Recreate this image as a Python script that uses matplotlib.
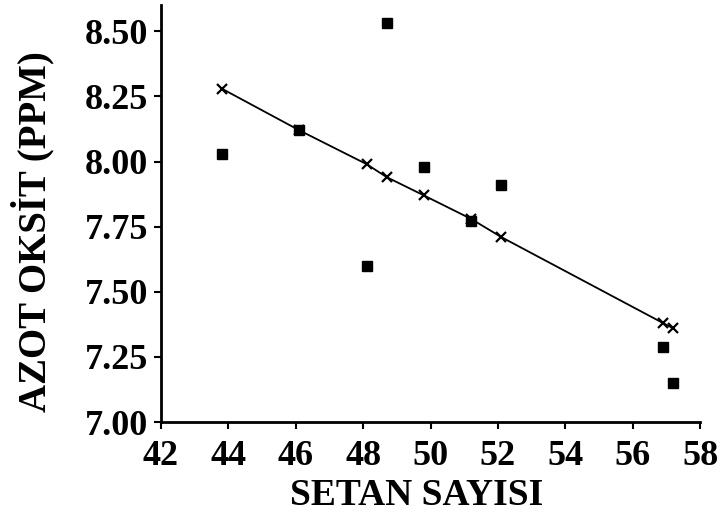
import matplotlib.pyplot as plt

# veri: setan sayisi - azot oksit
setan = [43.8, 46.1, 48.1, 48.7, 49.8, 51.2, 52.1, 56.9, 57.2]
azot = [8.03, 8.12, 7.60, 8.53, 7.98, 7.77, 7.91, 7.29, 7.15]

# regresyon dogrusu (x isaretleri)
fit_x = [43.8, 46.1, 48.1, 48.7, 49.8, 51.2, 52.1, 56.9, 57.2]
fit_y = [8.28, 8.12, 7.99, 7.94, 7.87, 7.78, 7.71, 7.38, 7.36]

xticks = [42, 44, 46, 48, 50, 52, 54, 56, 58]
yticks = [7.00, 7.25, 7.50, 7.75, 8.00, 8.25, 8.50]

plt.rcParams['font.family'] = ['Liberation Serif', 'DejaVu Serif']
plt.rcParams['font.weight'] = 'bold'

fig = plt.figure(figsize=(7.21, 5.16), dpi=100)
ax = fig.add_axes([0.2233, 0.182, 0.7477, 0.808])

ax.plot(fit_x, fit_y, color='black', lw=1.3, marker='x', ms=7, mew=1.6)
ax.plot(setan, azot, ls='none', marker='s', ms=7.5, color='black')

ax.set_xlim(42, 58)
ax.set_ylim(7.0, 8.60)
ax.set_xticks(xticks)
ax.set_yticks(yticks)
ax.set_yticklabels([f"{v:.2f}" for v in yticks])

for s in ['top', 'right']:
    ax.spines[s].set_visible(False)
ax.spines['left'].set_linewidth(2)
ax.spines['bottom'].set_linewidth(2)
ax.tick_params(direction='out', length=5, width=1.5, labelsize=26)
ax.tick_params(axis='x', pad=8)
ax.tick_params(axis='y', pad=4)

ax.set_xlabel('SETAN SAYISI', fontsize=27, fontweight='bold', va='center')
ax.set_ylabel('AZOT OKSİT (PPM)', fontsize=28, fontweight='bold', va='center')
ax.xaxis.set_label_coords(0.475, -0.175)
ax.yaxis.set_label_coords(-0.238, 0.458)

fig.savefig('out.png', dpi=100)
